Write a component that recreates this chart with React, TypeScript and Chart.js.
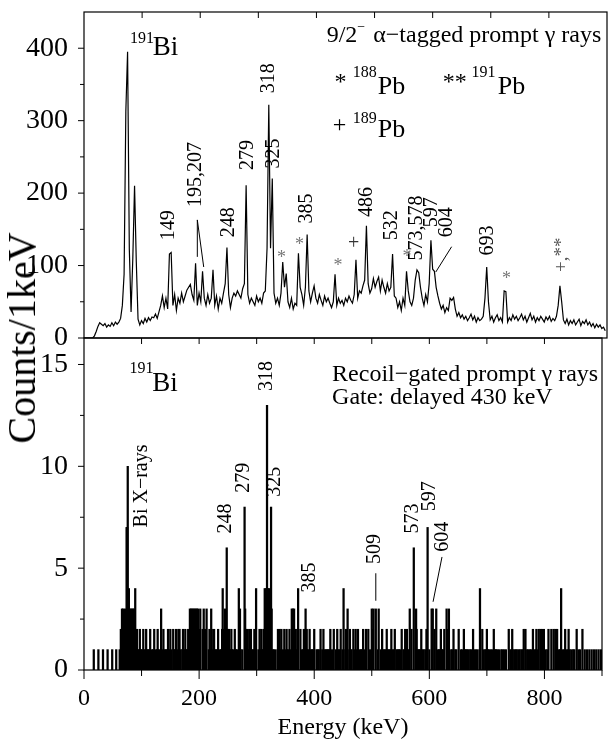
import React, { useEffect, useRef } from 'react';
import { Chart, registerables } from 'chart.js';

Chart.register(...registerables);

const SERIF = '"Liberation Serif", "Times New Roman", Times, serif';

// ---------- data ----------
const energyTicks = [0, 100, 200, 300, 400, 500, 600, 700, 800, 900];
const topYTicks = [0, 50, 100, 150, 200, 250, 300, 350, 400];
const botYTicks = [0, 2.5, 5, 7.5, 10, 12.5, 15];
const topBinWidth = 3; // keV per bin of the alpha-tagged spectrum

// counts of the alpha-tagged spectrum, bins start at 0,3,6,... keV
const topCounts = [
  0, 0, 0, 0, 0, 0, 3, 9, 16, 21,
  19, 17, 20, 15, 18, 16, 21, 17, 22, 19,
  22, 27, 45, 88, 313, 395, 122, 36, 110, 210,
  105, 26, 18, 24, 20, 27, 22, 28, 24, 29,
  28, 33, 27, 36, 45, 58, 42, 55, 40, 116,
  118, 45, 60, 38, 55, 48, 62, 50, 58, 66,
  70, 74, 60, 52, 103, 45, 62, 50, 92, 55,
  45, 60, 48, 55, 94, 45, 58, 40, 55, 48,
  62, 75, 125, 60, 42, 55, 62, 58, 65, 60,
  55, 68, 75, 211, 60, 48, 55, 50, 45, 58,
  50, 55, 48, 62, 65, 124, 322, 124, 220, 62,
  48, 55, 45, 62, 105, 70, 89, 50, 42, 55,
  40, 48, 45, 117, 70, 60, 45, 70, 143, 65,
  50, 62, 72, 55, 48, 60, 52, 45, 58, 50,
  55, 48, 42, 50, 88, 45, 55, 48, 52, 45,
  55, 50, 58, 52, 48, 60, 108, 55, 65, 62,
  72, 80, 155, 75, 62, 68, 82, 70, 78, 84,
  65, 80, 70, 62, 75, 65, 70, 116, 58, 55,
  42, 50, 38, 55, 45, 92, 65, 50, 45, 55,
  80, 94, 90, 70, 55, 45, 60, 50, 75, 135,
  95, 92, 70, 58, 48, 40, 45, 35, 42, 38,
  55, 52, 56, 40, 30, 35, 28, 32, 26, 30,
  24, 28, 33, 25, 30, 22, 28, 24, 26, 30,
  55, 98, 50, 25, 30, 22, 28, 32, 24, 28,
  22, 65, 64, 22, 28, 24, 32, 26, 30, 24,
  28, 33, 25, 30, 22, 28, 34, 25, 30, 22,
  28, 24, 30, 26, 22, 29, 25, 30, 23, 27,
  24, 30, 45, 72, 50, 25, 20, 26, 18, 24,
  20, 25, 18, 22, 26, 17, 23, 20, 25, 18,
  22, 16, 20, 14, 19, 15, 18, 13, 15, 10,
];

// recoil-gated spectrum: energies (keV, 1 keV bins) holding the given count
const gated1 = [
  17, 25, 33, 41, 49, 56, 62, 66, 79, 84, 94, 96, 99, 101, 105, 107, 109, 111, 113, 118,
  120, 125, 127, 129, 131, 137, 140, 142, 144, 148, 152, 156, 158, 160, 162, 168, 171, 175,
  177, 179, 187, 189, 193, 200, 206, 210, 212, 217, 219, 224, 226, 228, 230, 232, 236, 238,
  251, 253, 255, 257, 259, 262, 264, 266, 272, 275, 284, 286, 288, 291, 293, 295, 303, 306,
  309, 311, 328, 330, 333, 339, 341, 346, 350, 353, 355, 359, 367, 369, 376, 379, 381, 388,
  390, 392, 394, 396, 398, 400, 404, 406, 408, 414, 416, 418, 420, 422, 424, 426, 431, 438,
  440, 442, 444, 449, 454, 456, 461, 463, 465, 471, 473, 479, 481, 483, 488, 490, 497, 511,
  516, 518, 520, 522, 524, 527, 529, 531, 533, 536, 538, 543, 545, 547, 549, 555, 557, 559,
  562, 564, 569, 580, 582, 584, 586, 588, 590, 593, 600, 609, 615, 617, 619, 622, 624, 626,
  638, 640, 642, 645, 647, 655, 657, 660, 662, 664, 666, 668, 671, 673, 676, 678, 681, 684,
  694, 697, 699, 702, 704, 707, 710, 712, 714, 716, 718, 721, 725, 727, 730, 733, 741, 743,
  745, 748, 750, 752, 755, 757, 760, 762, 770, 772, 775, 777, 780, 783, 785, 788, 802, 805,
  825, 827, 832, 835, 838, 841, 844, 847, 850, 852, 859, 862, 866, 870, 874, 878, 882, 886,
  890, 894, 898,
];
const gated2 = [
  64, 70, 72, 92, 97, 103, 108, 115, 122, 128, 138, 146, 150, 155, 160, 164, 166, 172, 176,
  181, 186, 195, 200, 206, 210, 218, 222, 226, 233, 240, 243, 250, 252, 256, 262, 271, 281,
  283, 287, 290, 296, 305, 308, 312, 337, 340, 343, 348, 352, 357, 363, 368, 376, 382, 387,
  392, 400, 411, 416, 428, 434, 440, 446, 455, 462, 468, 472, 476, 485, 490, 494, 502, 518,
  526, 534, 540, 552, 558, 561, 569, 578, 586, 595, 609, 620, 626, 632, 642, 651, 660, 676,
  692, 700, 712, 738, 744, 764, 767, 780, 786, 790, 793, 796, 799, 807, 812, 816, 819, 822,
  836, 842, 856, 866,
];
const gated3 = [
  66, 68, 71, 79, 81, 83, 85, 87, 134, 184, 186, 188, 190, 192, 194, 196, 198, 202, 208, 213,
  221, 245, 271, 280, 315, 324, 326, 361, 363, 365, 385, 458, 500, 503, 507, 512, 566, 577,
  604, 606, 612, 630, 634,
];
const gated4 = [78, 89, 241, 269, 299, 314, 316, 320, 322, 372, 451, 688, 829];
const gated6 = [248, 573];
const gated7 = [74, 75, 597];
const gated8 = [279, 325];
const gated10 = [76];
const gated13 = [318];

// ---------- helpers ----------
function txt(ctx: CanvasRenderingContext2D, s: string, x: number, y: number, size: number, color = '#000', align: CanvasTextAlign = 'left') {
  ctx.font = `${size}px ${SERIF}`;
  ctx.fillStyle = color;
  ctx.textAlign = align;
  ctx.textBaseline = 'alphabetic';
  ctx.fillText(s, x, y);
  return ctx.measureText(s).width;
}
function rtxt(ctx: CanvasRenderingContext2D, s: string, x: number, y: number, size: number, color = '#000') {
  ctx.save();
  ctx.translate(x, y);
  ctx.rotate(-Math.PI / 2);
  ctx.font = `${size}px ${SERIF}`;
  ctx.fillStyle = color;
  ctx.textAlign = 'left';
  ctx.textBaseline = 'middle';
  ctx.fillText(s, 0, 0);
  ctx.restore();
}
function seg(ctx: CanvasRenderingContext2D, x1: number, y1: number, x2: number, y2: number, w = 1) {
  ctx.beginPath();
  ctx.lineWidth = w;
  ctx.strokeStyle = '#000';
  ctx.moveTo(x1, y1);
  ctx.lineTo(x2, y2);
  ctx.stroke();
}

type Label = [string, number, number];
const topLabels: Label[] = [
  ['149', 146, 135], ['195,207', 192, 181], ['248', 249, 139], ['279', 281, 232],
  ['318', 318, 338], ['325', 327, 234], ['385', 384, 158], ['486', 486, 167],
  ['532', 530, 135], ['573,578', 573, 107], ['597', 598, 153], ['604', 625, 139],
  ['693', 694, 114],
];
const topStars: [number, number][] = [[340, 116], [371, 134], [437, 105], [556, 117], [727, 87]];
const botLabels: Label[] = [
  ['Bi X\u2212rays', 100, 7.0], ['248', 246.5, 6.7], ['279', 278, 8.7], ['318', 318, 13.7],
  ['325', 332, 8.5], ['385', 393, 3.8], ['509', 506, 5.2], ['573', 572, 6.7],
  ['597', 600, 7.8], ['604', 624, 5.8],
];

function framePlugin(yMajor: number, bottomTicks: boolean, draw: (ctx: CanvasRenderingContext2D, X: (v: number) => number, Y: (v: number) => number) => void) {
  return {
    id: 'frame',
    afterDraw(chart: any) {
      const { ctx, chartArea: a, scales } = chart;
      const xs = scales.x, ys = scales.y;
      ctx.save();
      ctx.strokeStyle = '#000';
      ctx.lineWidth = 1.2;
      ctx.strokeRect(a.left, a.top, a.right - a.left, a.bottom - a.top);
      for (const t of ys.ticks) {
        if (t.value >= ys.max) continue;
        const py = ys.getPixelForValue(t.value);
        const major = Math.abs(t.value % yMajor) < 1e-6;
        seg(ctx, a.left - (major ? 6 : 4), py, a.left, py, 1);
      }
      for (const e of energyTicks) {
        const px = xs.getPixelForValue(e);
        if (e > 0 && e < 900) seg(ctx, px, a.top, px, a.top + 6, 1);
        if (bottomTicks) seg(ctx, px, a.bottom, px, a.bottom + (e % 200 === 0 ? 9 : 6), 1);
      }
      const X = (v: number) => xs.getPixelForValue(v);
      const Y = (v: number) => ys.getPixelForValue(v);
      draw(ctx, X, Y);
      ctx.restore();
    },
  };
}

function drawTop(ctx: CanvasRenderingContext2D, X: (v: number) => number, Y: (v: number) => number) {
  txt(ctx, '191', X(79), Y(407), 16);
  txt(ctx, 'Bi', X(118.4), Y(390), 27);
  // title
  let x = X(417.6);
  const yb = Y(408);
  x += txt(ctx, '9/2', x, yb, 24);
  x += txt(ctx, '\u2212', x, yb - 11, 14) + 2;
  txt(ctx, ' \u03b1\u2212tagged prompt \u03b3 rays', x, yb, 24);
  // legend
  txt(ctx, '*', X(431), Y(344), 24);
  txt(ctx, '188', X(462.5), Y(360), 16);
  txt(ctx, 'Pb', X(505.5), Y(336.6), 26);
  txt(ctx, '**', X(617.5), Y(344), 24);
  txt(ctx, '191', X(667), Y(360), 16);
  txt(ctx, 'Pb', X(712), Y(336.6), 26);
  txt(ctx, '+', X(428), Y(285), 24);
  txt(ctx, '189', X(462.5), Y(296.6), 16);
  txt(ctx, 'Pb', X(505.5), Y(277), 26);
  // peak labels
  for (const [s, e, c] of topLabels) rtxt(ctx, s, X(e), Y(c), 20);
  for (const [e, c] of topStars) txt(ctx, '*', X(e), Y(c) + 9, 18, '#777', 'center');
  txt(ctx, '+', X(464), Y(130) + 5, 20, '#333', 'center');
  rtxt(ctx, '+,**', X(822), Y(91), 19, '#555');
  // pointer lines
  seg(ctx, X(195), Y(163), X(195), Y(112), 1);
  seg(ctx, X(195), Y(163), X(206), Y(98), 1);
  seg(ctx, X(632.6), Y(126), X(605.3), Y(91), 1);
}

function drawBottom(ctx: CanvasRenderingContext2D, X: (v: number) => number, Y: (v: number) => number) {
  txt(ctx, '191', X(79), Y(14.6), 16);
  txt(ctx, 'Bi', X(118.4), Y(13.7), 27);
  txt(ctx, 'Recoil\u2212gated prompt \u03b3 rays', X(431), Y(14.2), 24);
  txt(ctx, 'Gate: delayed 430 keV', X(431), Y(13.04), 24);
  for (const [s, e, c] of botLabels) rtxt(ctx, s, X(e), Y(c), 20);
  seg(ctx, X(507), Y(4.75), X(507), Y(3.4), 1);
  seg(ctx, X(622), Y(5.55), X(606.5), Y(3.35), 1);
}

export default function App() {
  const topRef = useRef<HTMLCanvasElement>(null);
  const botRef = useRef<HTMLCanvasElement>(null);

  useEffect(() => {
    const xTickFont = { family: SERIF, size: 24 };
    const yTickFont = { family: SERIF, size: 28 };
    const topPoints = topCounts.map((c, i) => ({ x: i * topBinWidth, y: c }));

    const gatedMap = new Map<number, number>();
    const levels: [number[], number][] = [
      [gated1, 1], [gated2, 2], [gated3, 3], [gated4, 4], [gated6, 6],
      [gated7, 7], [gated8, 8], [gated10, 10], [gated13, 13],
    ];
    for (const [list, n] of levels) for (const e of list) gatedMap.set(e, Math.max(n, gatedMap.get(e) || 0));
    const gatedPoints = Array.from(gatedMap.entries()).sort((a, b) => a[0] - b[0]).map(([e, n]) => ({ x: e, y: n }));

    const top = new Chart(topRef.current!, {
      type: 'line',
      data: {
        datasets: [{
          data: topPoints as any,
          borderColor: '#000',
          borderWidth: 1.2,
          pointRadius: 0,
          tension: 0,
          fill: false,
        }],
      },
      options: {
        responsive: false,
        animation: false,
        events: [],
        layout: { padding: { top: 42, right: 1, bottom: 32, left: 0 } },
        plugins: { legend: { display: false }, tooltip: { enabled: false } },
        scales: {
          x: { type: 'linear', min: 0, max: 900, display: false },
          y: {
            min: 0, max: 450,
            afterFit: (s: any) => { s.width = 84; },
            afterBuildTicks: (s: any) => { s.ticks = topYTicks.map((v) => ({ value: v })); },
            grid: { display: false },
            border: { display: false },
            ticks: {
              padding: 8, color: '#000', font: yTickFont,
              callback: (v: any) => (v % 100 === 0 ? String(v) : ''),
            },
          },
        },
      },
      plugins: [framePlugin(100, false, drawTop)],
    } as any);

    const bot = new Chart(botRef.current!, {
      type: 'bar',
      data: {
        datasets: [{
          data: gatedPoints as any,
          backgroundColor: '#000',
          borderWidth: 0,
          barThickness: 1.6,
          grouped: false,
        }],
      },
      options: {
        responsive: false,
        animation: false,
        events: [],
        layout: { padding: { top: 30, right: 1, bottom: 0, left: 0 } },
        plugins: { legend: { display: false }, tooltip: { enabled: false } },
        scales: {
          x: {
            type: 'linear', min: 0, max: 900, offset: false,
            afterFit: (s: any) => { s.height = 73; },
            grid: { display: false },
            border: { display: false },
            ticks: {
              stepSize: 100, autoSkip: false, maxRotation: 0, padding: 6, color: '#000', font: xTickFont,
              callback: (v: any) => (v % 200 === 0 ? String(v) : ''),
            },
            title: { display: true, text: 'Energy (keV)', color: '#000', font: { family: SERIF, size: 24 }, padding: { top: 0, bottom: 1 } },
          },
          y: {
            min: 0, max: 16.3,
            afterFit: (s: any) => { s.width = 84; },
            afterBuildTicks: (s: any) => { s.ticks = botYTicks.map((v) => ({ value: v })); },
            grid: { display: false },
            border: { display: false },
            ticks: {
              padding: 8, color: '#000', font: yTickFont,
              callback: (v: any) => (Math.abs(v % 5) < 1e-6 ? String(v) : ''),
            },
          },
        },
      },
      plugins: [framePlugin(5, true, drawBottom)],
    } as any);

    return () => { top.destroy(); bot.destroy(); };
  }, []);

  return (
    <div style={{ position: 'absolute', left: 0, top: 0, width: 608, height: 743, background: '#fff', overflow: 'hidden' }}>
      <canvas ref={topRef} width={608} height={400} style={{ position: 'absolute', left: 0, top: -30, width: 608, height: 400 }} />
      <canvas ref={botRef} width={608} height={435} style={{ position: 'absolute', left: 0, top: 308, width: 608, height: 435 }} />
      <div style={{
        position: 'absolute', left: 22, top: 338, transform: 'translate(-50%, -50%) rotate(-90deg)',
        font: `40px ${SERIF}`, whiteSpace: 'nowrap', lineHeight: 1, color: '#000',
      }}>Counts/1keV</div>
    </div>
  );
}
